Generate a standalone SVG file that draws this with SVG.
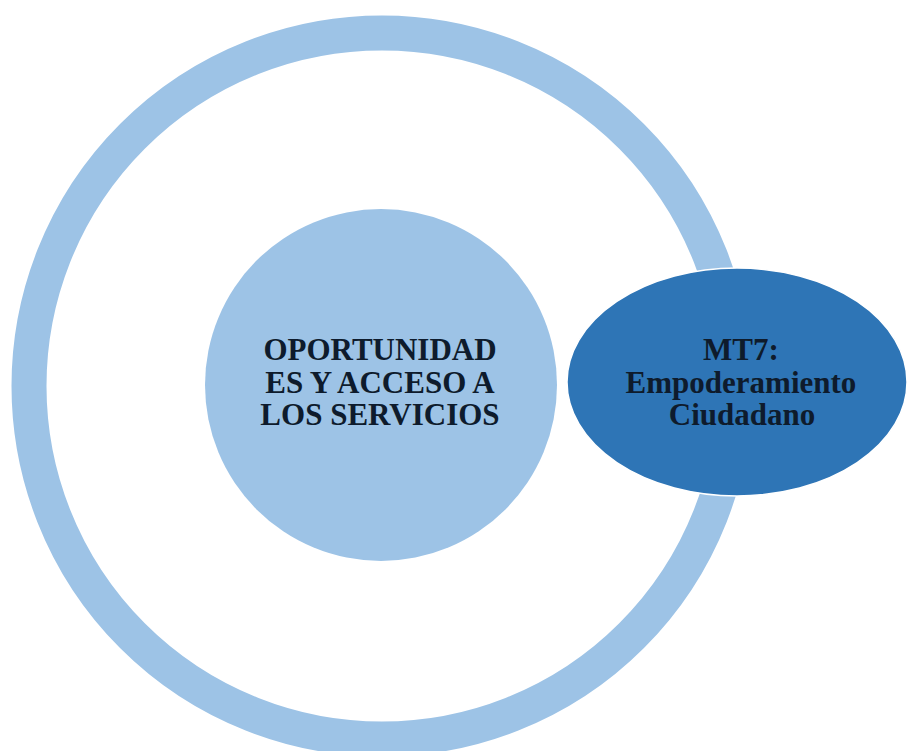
<svg xmlns="http://www.w3.org/2000/svg" width="907" height="751" viewBox="0 0 907 751">
  <style>
    .ring { fill: none; stroke: #9DC3E6; stroke-width: 35; }
    .light { fill: #9DC3E6; }
    .dark { fill: #2E75B6; stroke: #ffffff; stroke-width: 1.5; }
    .lbl { font-family: "Liberation Serif", "Times New Roman", serif; font-weight: bold; font-size: 31px; fill: #0e1b2c; text-anchor: middle; }
  </style>
  <rect width="907" height="751" fill="#ffffff"/>
  <g id="outer-ring">
    <circle class="ring" cx="382" cy="386" r="353"/>
  </g>
  <g id="inner-circle">
    <circle class="light" cx="381" cy="385" r="176"/>
    <text class="lbl" x="380" y="360">OPORTUNIDAD</text>
    <text class="lbl" x="380" y="393">ES Y ACCESO A</text>
    <text class="lbl" x="380" y="425">LOS SERVICIOS</text>
  </g>
  <g id="mt7">
    <ellipse class="dark" cx="737" cy="382" rx="170" ry="114"/>
    <text class="lbl" x="741" y="360">MT7:</text>
    <text class="lbl" x="741" y="393">Empoderamiento</text>
    <text class="lbl" x="742" y="425">Ciudadano</text>
  </g>
  <g id="connectors"/>
</svg>
